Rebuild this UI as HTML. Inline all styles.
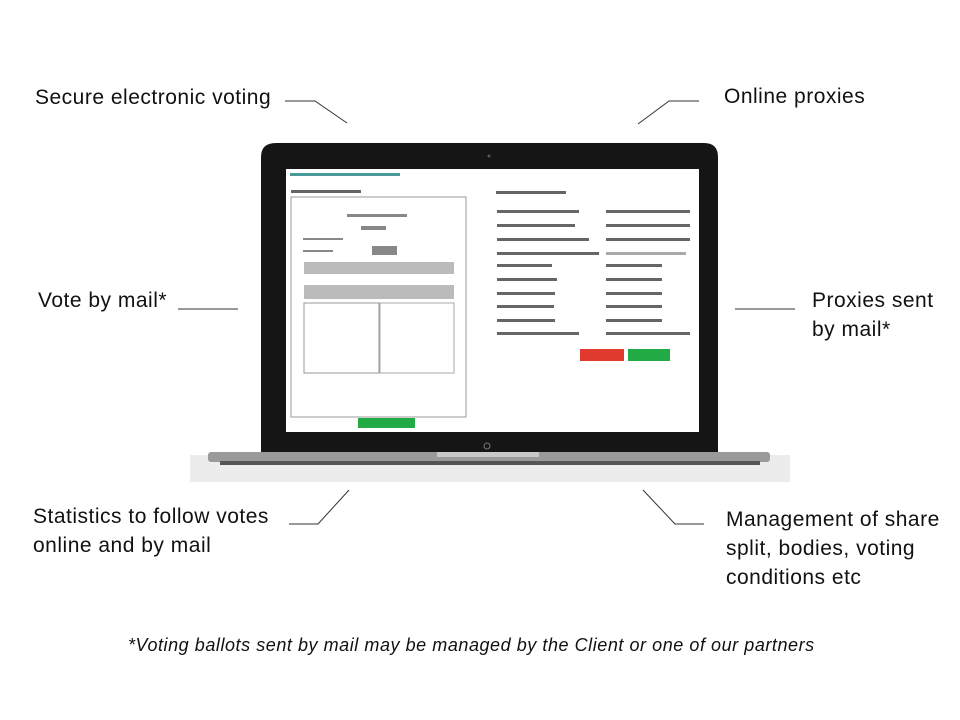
<!DOCTYPE html>
<html><head><style>
body{margin:0;width:960px;height:720px;background:#fff;position:relative;overflow:hidden;font-family:"Liberation Sans",sans-serif;color:#111}
.t{position:absolute;font-size:21px;letter-spacing:0.5px;line-height:29px;white-space:nowrap}
</style></head><body>
<div class="t" style="left:35px;top:83px">Secure electronic voting</div>
<div class="t" style="left:724px;top:82px">Online proxies</div>
<div class="t" style="left:38px;top:286px">Vote by mail*</div>
<div class="t" style="left:812px;top:286px">Proxies sent<br>by mail*</div>
<div class="t" style="left:33px;top:502px">Statistics to follow votes<br>online and by mail</div>
<div class="t" style="left:726px;top:505px">Management of share<br>split, bodies, voting<br>conditions etc</div>
<div class="t" style="left:128px;top:631px;font-style:italic;font-size:18px;letter-spacing:0.55px">*Voting ballots sent by mail may be managed by the Client or one of our partners</div>
<svg width="960" height="720" style="position:absolute;left:0;top:0">
<g stroke="#333" stroke-width="1" fill="none">
<polyline points="285,101 315,101 347,123"/>
<polyline points="699,101 669,101 638,124"/>
<line x1="178" y1="309" x2="238" y2="309"/>
<line x1="735" y1="309" x2="795" y2="309"/>
<polyline points="289,524 318,524 349,490"/>
<polyline points="704,524 675,524 643,490"/>
</g>
<rect x="190" y="455" width="600" height="27" fill="#ececec"/>
<path d="M276,143 H704 Q718,143 718,157 V455 H261 V157 Q261,143 276,143Z" fill="#151515"/>
<rect x="208" y="452" width="562" height="10" rx="3" fill="#9a9a9a"/>
<rect x="437" y="452" width="102" height="5" fill="#c8c8c8"/>
<rect x="220" y="461" width="540" height="4" fill="#555"/>
<circle cx="489" cy="156" r="1.5" fill="#555"/>
<circle cx="487" cy="446" r="3" fill="none" stroke="#777"/>
<rect x="286" y="169" width="413" height="263" fill="#fff"/>
<rect x="291" y="197" width="175" height="220" fill="#fff" stroke="#999"/>
<g fill="#bbb"><rect x="304" y="262" width="150" height="12"/><rect x="304" y="285" width="150" height="14"/><rect x="304" y="303" width="75" height="70" fill="none" stroke="#999"/><rect x="380" y="303" width="74" height="70" fill="none" stroke="#aaa"/></g>
<g fill="#888"><rect x="347" y="214" width="60" height="3"/><rect x="361" y="226" width="25" height="4"/><rect x="303" y="238" width="40" height="2"/><rect x="303" y="250" width="30" height="2"/><rect x="372" y="246" width="25" height="9"/></g>
<rect x="358" y="418" width="57" height="10" fill="#22aa44"/>
<rect x="580" y="349" width="44" height="12" fill="#e03a2e"/>
<rect x="628" y="349" width="42" height="12" fill="#22aa44"/>
<g fill="#666">
<rect x="290" y="173" width="110" height="3" fill="#4a9a9a"/>
<rect x="291" y="190" width="70" height="3"/>
<rect x="496" y="191" width="70" height="3"/>
<rect x="497" y="210" width="82" height="3"/><rect x="497" y="224" width="78" height="3"/><rect x="497" y="238" width="92" height="3"/><rect x="497" y="252" width="102" height="3"/>
<rect x="497" y="264" width="55" height="3"/><rect x="497" y="278" width="60" height="3"/><rect x="497" y="292" width="58" height="3"/><rect x="497" y="305" width="57" height="3"/><rect x="497" y="319" width="58" height="3"/><rect x="497" y="332" width="82" height="3"/>
<rect x="606" y="210" width="84" height="3"/><rect x="606" y="224" width="84" height="3"/><rect x="606" y="238" width="84" height="3"/><rect x="606" y="252" width="80" height="3" fill="#aaa"/>
<rect x="606" y="264" width="56" height="3"/><rect x="606" y="278" width="56" height="3"/><rect x="606" y="292" width="56" height="3"/><rect x="606" y="305" width="56" height="3"/><rect x="606" y="319" width="56" height="3"/><rect x="606" y="332" width="84" height="3"/>
</g>
</svg>
</body></html>
